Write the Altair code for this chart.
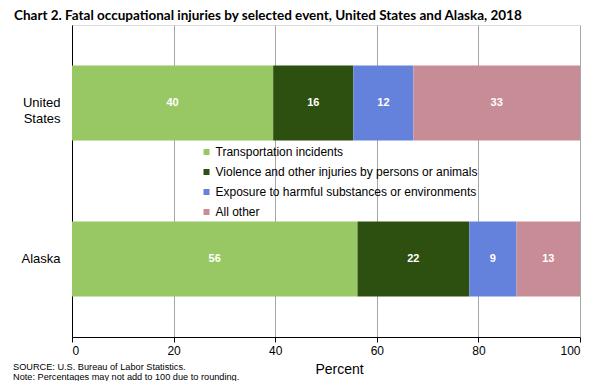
import altair as alt
import pandas as pd

regions = ["United States", "Alaska"]
events = [
    "Transportation incidents",
    "Violence and other injuries by persons or animals",
    "Exposure to harmful substances or environments",
    "All other",
]
us_values = [39.6, 15.8, 11.8, 32.8]
ak_values = [56.2, 22.0, 9.3, 12.5]
us_labels = ["40", "16", "12", "33"]
ak_labels = ["56", "22", "9", "13"]
colors = ["#98C864", "#2D5010", "#6482DC", "#C88C96"]
x_ticks = [0, 20, 40, 60, 80, 100]
title_text = "Chart 2. Fatal occupational injuries by selected event, United States and Alaska, 2018"
notes = [
    "SOURCE: U.S. Bureau  of Labor Statistics.",
    "Note: Percentages may not add to 100 due  to rounding.",
]

rows = []
for region, vals, labs in [("United States", us_values, us_labels), ("Alaska", ak_values, ak_labels)]:
    start = 0.0
    for i, (ev, v, lab) in enumerate(zip(events, vals, labs)):
        rows.append({"region": region, "event": ev, "order": i, "start": start,
                     "end": start + v, "mid": start + v / 2, "label": lab})
        start += v
df = pd.DataFrame(rows)

W, H = 508, 312
FONT = "Liberation Sans"

y_enc = alt.Y("region:N", sort=regions, title=None,
              scale=alt.Scale(paddingInner=0, paddingOuter=0),
              axis=alt.Axis(domainColor="black", ticks=False, grid=False,
                            labelFontSize=13, labelColor="black", labelFont=FONT,
                            labelPadding=12, labelLineHeight=16,
                            labelExpr="datum.label == 'United States' ? ['United', 'States'] : datum.label"))

x_enc = alt.X("start:Q", scale=alt.Scale(domain=[0, 100], nice=False),
              title="Percent",
              axis=alt.Axis(values=x_ticks, domainColor="black", tickColor="black",
                            tickSize=5, grid=True, gridColor="#A6A6A6",
                            labelFontSize=12, labelColor="black", labelFont=FONT,
                            labelPadding=3, titleFontSize=14, titleFontWeight="normal",
                            titleFont=FONT, titleColor="black", titlePadding=6,
                            titleX=W / 2 + 13))

base = alt.Chart(df)

bars = base.mark_bar(size=75).encode(
    y=y_enc,
    x=x_enc,
    x2="end:Q",
    order="order:Q",
    color=alt.Color("event:N", scale=alt.Scale(domain=events, range=colors),
                    legend=alt.Legend(title=None, orient="none", legendX=128.5, legendY=121,
                                      symbolType="square", symbolSize=36, symbolStrokeWidth=0,
                                      labelFontSize=12, labelFont=FONT, labelColor="black",
                                      labelOffset=3, rowPadding=8, padding=0,
                                      labelLimit=400)),
)

text = base.mark_text(color="white", fontWeight="bold", fontSize=11, font=FONT).encode(
    y=alt.Y("region:N", sort=regions),
    x=alt.X("mid:Q"),
    text="label:N",
)

note1 = alt.Chart(pd.DataFrame({"note": [notes[0]]})).mark_text(
    align="left", baseline="middle", fontSize=9.2, font=FONT, color="black"
).encode(x=alt.value(-59), y=alt.value(342), text="note:N")
note2 = alt.Chart(pd.DataFrame({"note": [notes[1]]})).mark_text(
    align="left", baseline="middle", fontSize=9.2, font=FONT, color="black"
).encode(x=alt.value(-59), y=alt.value(352), text="note:N")

chart = alt.layer(bars, text, note1, note2).properties(
    width=W, height=H,
    title=alt.TitleParams(title_text, anchor="start", frame="group", fontSize=13.5, font="Lato",
                          fontWeight="bold", color="black", dx=-58, offset=2.5),
    autosize=alt.AutoSizeParams(type="none"),
    padding={"left": 64, "top": 17, "right": 12, "bottom": 44},
).configure_view(stroke="#A6A6A6", strokeWidth=1).configure(background="white")

chart.save("out.html", embed_options={"renderer": "svg", "actions": False})
